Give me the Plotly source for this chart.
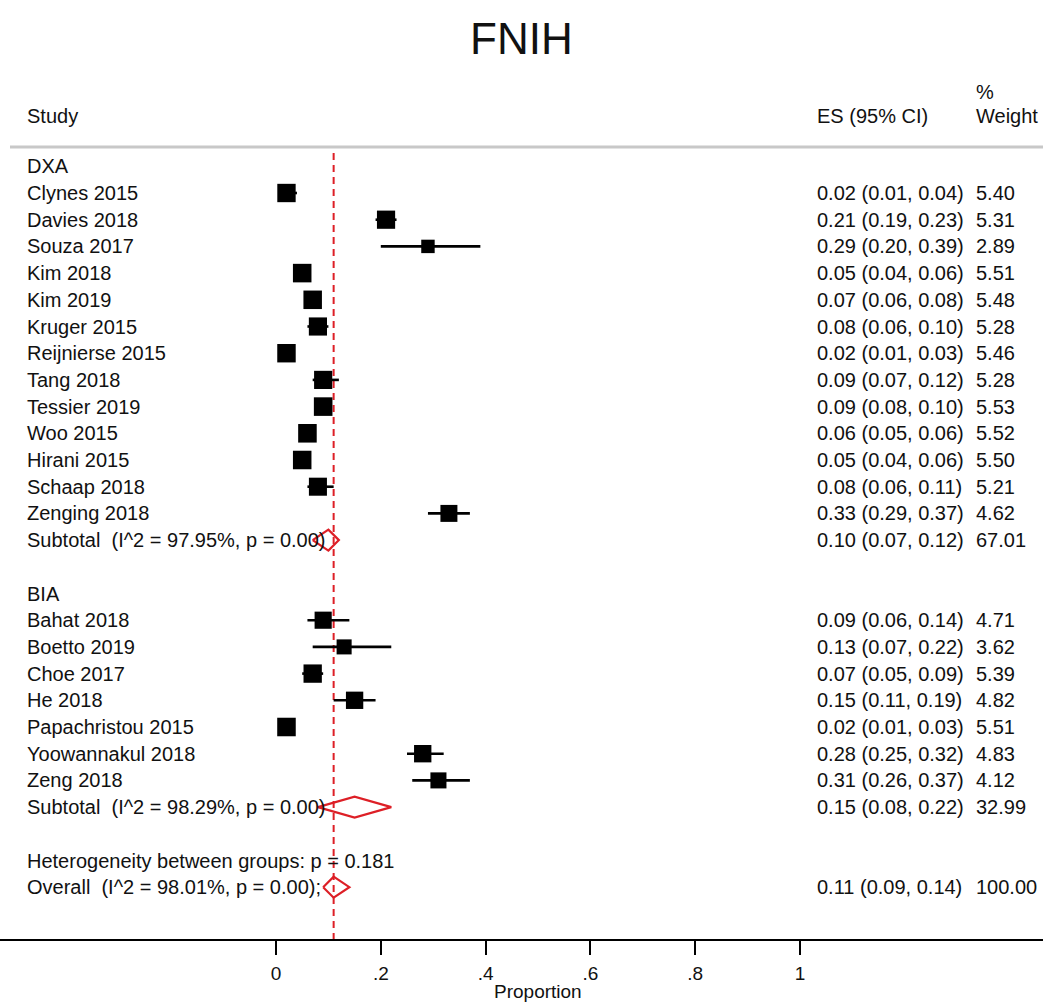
import plotly.graph_objects as go

# ---------------- data ----------------
dxa_studies = ["Clynes 2015", "Davies 2018", "Souza 2017", "Kim 2018", "Kim 2019",
               "Kruger 2015", "Reijnierse 2015", "Tang 2018", "Tessier 2019",
               "Woo 2015", "Hirani 2015", "Schaap 2018", "Zenging 2018"]
dxa_es = [0.02, 0.21, 0.29, 0.05, 0.07, 0.08, 0.02, 0.09, 0.09, 0.06, 0.05, 0.08, 0.33]
dxa_lo = [0.01, 0.19, 0.20, 0.04, 0.06, 0.06, 0.01, 0.07, 0.08, 0.05, 0.04, 0.06, 0.29]
dxa_hi = [0.04, 0.23, 0.39, 0.06, 0.08, 0.10, 0.03, 0.12, 0.10, 0.06, 0.06, 0.11, 0.37]
dxa_w = [5.40, 5.31, 2.89, 5.51, 5.48, 5.28, 5.46, 5.28, 5.53, 5.52, 5.50, 5.21, 4.62]
dxa_sub = {"label": "Subtotal\u00a0\u00a0(I^2 = 97.95%, p = 0.00)", "es": 0.10, "lo": 0.07, "hi": 0.12, "w": 67.01}

bia_studies = ["Bahat 2018", "Boetto 2019", "Choe 2017", "He 2018",
               "Papachristou 2015", "Yoowannakul 2018", "Zeng 2018"]
bia_es = [0.09, 0.13, 0.07, 0.15, 0.02, 0.28, 0.31]
bia_lo = [0.06, 0.07, 0.05, 0.11, 0.01, 0.25, 0.26]
bia_hi = [0.14, 0.22, 0.09, 0.19, 0.03, 0.32, 0.37]
bia_w = [4.71, 3.62, 5.39, 4.82, 5.51, 4.83, 4.12]
bia_sub = {"label": "Subtotal\u00a0\u00a0(I^2 = 98.29%, p = 0.00)", "es": 0.15, "lo": 0.08, "hi": 0.22, "w": 32.99}

heterogeneity_text = "Heterogeneity between groups: p = 0.181"
overall = {"label": "Overall\u00a0\u00a0(I^2 = 98.01%, p = 0.00);", "es": 0.11, "lo": 0.09, "hi": 0.14, "w": 100.00}

tick_vals = [0, 0.2, 0.4, 0.6, 0.8, 1]
tick_text = ["0", ".2", ".4", ".6", ".8", "1"]

# ---------------- layout constants ----------------
W, H = 1043, 1003
X0_PX, X1_PX = 276, 800          # pixel positions of 0 and 1 on the axis
AXIS_Y = 939                      # pixel y of the axis line
ROW0_Y, ROW_H = 166.3, 26.7       # first row (group header) and row spacing
FONT = "Liberation Sans, Arial, sans-serif"
TXT = "#111111"
RED = "#dd1f26"
LABEL_X, ES_X, W_X = 25, 815, 974
px_per_unit = X1_PX - X0_PX


def row_y(r):
    return ROW0_Y + ROW_H * r


# build rows
rows = []  # (kind, label, es, lo, hi, w, r)
r = 0
rows.append(("header", "DXA", None, None, None, None, r)); r += 1
for i, s in enumerate(dxa_studies):
    rows.append(("study", s, dxa_es[i], dxa_lo[i], dxa_hi[i], dxa_w[i], r)); r += 1
rows.append(("sub", dxa_sub["label"], dxa_sub["es"], dxa_sub["lo"], dxa_sub["hi"], dxa_sub["w"], r)); r += 2
rows.append(("header", "BIA", None, None, None, None, r)); r += 1
for i, s in enumerate(bia_studies):
    rows.append(("study", s, bia_es[i], bia_lo[i], bia_hi[i], bia_w[i], r)); r += 1
rows.append(("sub", bia_sub["label"], bia_sub["es"], bia_sub["lo"], bia_sub["hi"], bia_sub["w"], r)); r += 2
rows.append(("header", heterogeneity_text, None, None, None, None, r)); r += 1
rows.append(("sub", overall["label"], overall["es"], overall["lo"], overall["hi"], overall["w"], r))

fig = go.Figure()

# reference (overall) dashed line
fig.add_trace(go.Scatter(x=[overall["es"], overall["es"]], y=[153, AXIS_Y], mode="lines",
                         line=dict(color=RED, width=2, dash="7px,5px"), hoverinfo="skip", showlegend=False))

# CI lines
cx, cy = [], []
for kind, lab, es, lo, hi, w, rr in rows:
    if kind == "study":
        cx += [lo, hi, None]
        cy += [row_y(rr), row_y(rr), None]
fig.add_trace(go.Scatter(x=cx, y=cy, mode="lines", line=dict(color="black", width=2.6),
                         hoverinfo="skip", showlegend=False))

# weighted boxes (area proportional to weight)
mx, my, ms = [], [], []
for kind, lab, es, lo, hi, w, rr in rows:
    if kind == "study":
        mx.append(es)
        my.append(row_y(rr))
        ms.append(7.9 * w ** 0.5)
fig.add_trace(go.Scatter(x=mx, y=my, mode="markers",
                         marker=dict(symbol="square", size=ms, color="black", opacity=1,
                                     line=dict(width=0)),
                         hoverinfo="skip", showlegend=False))

# diamonds
DH = 10.5
for kind, lab, es, lo, hi, w, rr in rows:
    if kind == "sub":
        y = row_y(rr)
        fig.add_trace(go.Scatter(x=[lo, es, hi, es, lo], y=[y, y - DH, y, y + DH, y], mode="lines",
                                 line=dict(color=RED, width=2.2), hoverinfo="skip", showlegend=False))

ann = []
def text(x, y, s, size=20, anchor="left", xref="paper", yref="y", yshift=0):
    ann.append(dict(x=x, y=y, xref=xref, yref=yref, text=s, showarrow=False, xanchor=anchor,
                    yanchor="middle", yshift=yshift, font=dict(family=FONT, size=size, color=TXT)))

for kind, lab, es, lo, hi, w, rr in rows:
    y = row_y(rr)
    text(LABEL_X / W, y, lab)
    if es is not None:
        text(ES_X / W, y, f"{es:.2f} ({lo:.2f}, {hi:.2f})")
        text(W_X / W, y, f"{w:.2f}")

# headers
text(LABEL_X / W, 116, "Study")
text(ES_X / W, 116, "ES (95% CI)")
text(W_X / W, 92, "%")
text(W_X / W, 116, "Weight")
# title
text(0.5, 38, "FNIH", size=44, anchor="center")
# axis title (below the plotting area)
text(0.5, 0, "Proportion", size=19, anchor="center", xref="x", yref="paper", yshift=-(991 - AXIS_Y))

# header rule
shapes = [dict(type="line", xref="paper", yref="y", x0=10 / W, x1=1, y0=147, y1=147,
               line=dict(color="#c8c8c8", width=3))]

fig.update_layout(
    width=W, height=H,
    margin=dict(l=0, r=0, t=0, b=H - AXIS_Y, pad=0),
    paper_bgcolor="white", plot_bgcolor="white",
    annotations=ann, shapes=shapes, hovermode=False,
    xaxis=dict(range=[-X0_PX / px_per_unit, (W - X0_PX) / px_per_unit],
               tickvals=tick_vals, ticktext=tick_text, showgrid=False, zeroline=False,
               showline=True, linecolor="black", linewidth=2,
               ticks="outside", ticklen=14, tickwidth=2, tickcolor="black",
               ticklabelstandoff=2,
               tickfont=dict(family=FONT, size=19, color=TXT), fixedrange=True),
    yaxis=dict(range=[AXIS_Y, 0], visible=False, fixedrange=True),
)

fig.write_html("out.html", config={"displayModeBar": False, "staticPlot": True},
               post_script="document.body.style.margin='0';")
